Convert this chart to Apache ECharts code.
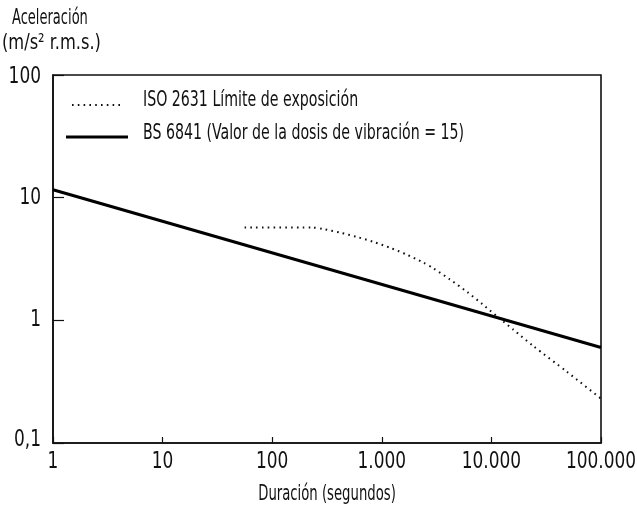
<!DOCTYPE html>
<html>
<head>
<meta charset="utf-8">
<script src="https://cdn.jsdelivr.net/npm/echarts@6/dist/echarts.min.js"></script>
<style>
  html, body { margin: 0; padding: 0; background: #fff; }
  #chart { width: 637px; height: 512px; }
</style>
</head>
<body>
<div id="chart"></div>
<script>
// Duration in seconds and acceleration in m/s² r.m.s.
const isoDuration = [56, 234, 288, 417, 589, 832, 1202, 1698, 2399, 2951, 4169, 6026, 8318, 11220, 15850, 23990, 48980, 100000];
const isoAccel    = [5.7, 5.7, 5.56, 5.19, 4.79, 4.37, 3.89, 3.43, 2.95, 2.66, 2.16, 1.70, 1.35, 1.08, 0.84, 0.62, 0.38, 0.23];

const bsDuration = [1, 100000];
const bsAccel    = [11.6, 0.6];

const xTickValues = [1, 10, 100, 1000, 10000, 100000];
const xTickLabels = ['1', '10', '100', '1.000', '10.000', '100.000'];
const yTickValues = [0.1, 1, 10, 100];
const yTickLabels = ['0,1', '1', '10', '100'];

const legendNames = ['ISO 2631 Límite de exposición', 'BS 6841 (Valor de la dosis de vibración = 15)'];
const yTitleLines = ['Aceleración', '(m/s² r.m.s.)'];
const xTitle = 'Duración (segundos)';

// Narrow-looking labels: condensed face, squeezed a bit further horizontally.
const FONT = '"DejaVu Sans Condensed", "Liberation Sans Narrow", sans-serif';
const INK = '#111';

const zip = (xs, ys) => xs.map((x, i) => [x, ys[i]]);

const chart = echarts.init(document.getElementById('chart'), null, { renderer: 'canvas' });

const axisCommon = {
  type: 'log', logBase: 10,
  axisLine: { show: true, lineStyle: { color: INK, width: 1.6 } },
  minorTick: { show: false },
  splitLine: { show: false },
  axisLabel: { show: false }
};

chart.setOption({
  animation: false,
  backgroundColor: '#fff',
  grid: {
    left: 53, right: 36, top: 75, bottom: 69,
    outerBoundsMode: 'none',
    containLabel: false,
    show: true, borderColor: INK, borderWidth: 1.6
  },
  xAxis: Object.assign({}, axisCommon, {
    min: 1, max: 100000,
    axisTick: { show: true, inside: true, length: 6, lineStyle: { color: INK, width: 1.2 } }
  }),
  yAxis: Object.assign({}, axisCommon, {
    min: 0.1, max: 100,
    axisTick: { show: true, inside: true, length: 11, lineStyle: { color: INK, width: 1.2 } }
  }),
  series: [
    {
      name: legendNames[0],
      type: 'line',
      data: zip(isoDuration, isoAccel),
      showSymbol: false,
      smooth: 0.25,
      lineStyle: { color: INK, width: 2, type: [1.6, 4.2], cap: 'butt' }
    },
    {
      name: legendNames[1],
      type: 'line',
      data: zip(bsDuration, bsAccel),
      showSymbol: false,
      lineStyle: { color: '#000', width: 3 }
    }
  ]
});

// Text helper: left/centre/right anchored, optionally squeezed horizontally.
function label(text, x, y, size, align, sx) {
  return {
    type: 'text', x: x, y: y, scaleX: sx, scaleY: 1, silent: true,
    style: { text: text, font: size + 'px ' + FONT, fill: INK, align: align, verticalAlign: 'middle' }
  };
}

const graphics = [];

// tick labels placed on the axis scale
xTickValues.forEach((v, i) => {
  const p = chart.convertToPixel({ gridIndex: 0 }, [v, 0.1]);
  graphics.push(label(xTickLabels[i], p[0], p[1] + 19, 23, 'center', 0.82));
});
yTickValues.forEach((v, i) => {
  const p = chart.convertToPixel({ gridIndex: 0 }, [1, v]);
  const dy = i === 0 ? -3 : (i === yTickValues.length - 1 ? 2 : 0);
  graphics.push(label(yTickLabels[i], p[0] - 12, p[1] + dy, 23, 'right', 0.82));
});

// axis titles
graphics.push(label(yTitleLines[0], 12, 19, 21, 'left', 0.69));
graphics.push(label(yTitleLines[1], 2, 44, 21, 'left', 0.86));
graphics.push(label(xTitle, 327, 495, 21, 'center', 0.7));

// legend
graphics.push({ type: 'line', silent: true, shape: { x1: 72, y1: 105, x2: 121, y2: 105 },
  style: { stroke: INK, lineWidth: 2, lineDash: [1.6, 4.2] } });
graphics.push(label(legendNames[0], 143, 101, 21, 'left', 0.75));
graphics.push({ type: 'line', silent: true, shape: { x1: 66, y1: 137, x2: 128, y2: 137 },
  style: { stroke: '#000', lineWidth: 3 } });
graphics.push(label(legendNames[1], 143, 134, 21, 'left', 0.75));

chart.setOption({ graphic: graphics });
</script>
</body>
</html>
